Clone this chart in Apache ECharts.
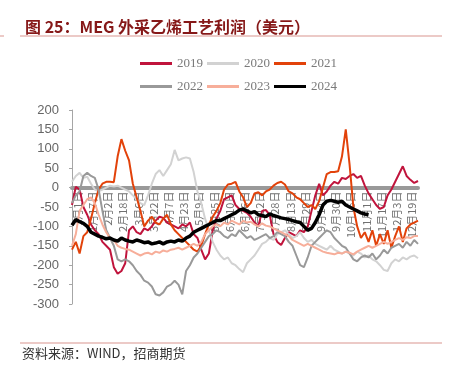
<!DOCTYPE html>
<html>
<head>
<meta charset="utf-8">
<script src="https://cdn.jsdelivr.net/npm/echarts@6/dist/echarts.min.js"></script>
<style>
html,body{margin:0;padding:0;background:#fff;}
#c{width:451px;height:370px;}
</style>
</head>
<body>
<div id="c"></div>
<script>
// Category dates (every 4 days)
var categories = ['1月1日','1月5日','1月9日','1月13日','1月17日','1月21日','1月25日','1月29日',
'2月2日','2月6日','2月10日','2月14日','2月18日','2月22日','2月26日',
'3月2日','3月6日','3月10日','3月14日','3月18日','3月22日','3月26日','3月30日',
'4月3日','4月7日','4月11日','4月15日','4月19日','4月23日','4月27日',
'5月1日','5月5日','5月9日','5月13日','5月17日','5月21日','5月25日','5月29日',
'6月2日','6月6日','6月10日','6月14日','6月18日','6月22日','6月26日','6月30日',
'7月4日','7月8日','7月12日','7月16日','7月20日','7月24日','7月28日',
'8月1日','8月5日','8月9日','8月13日','8月17日','8月21日','8月25日','8月29日',
'9月2日','9月6日','9月10日','9月14日','9月18日','9月22日','9月26日','9月30日',
'10月4日','10月8日','10月12日','10月16日','10月20日','10月24日','10月28日',
'11月1日','11月5日','11月9日','11月13日','11月17日','11月21日','11月25日','11月29日',
'12月3日','12月7日','12月11日','12月15日','12月19日','12月23日','12月27日','12月31日'];

var yTicks = [-300,-250,-200,-150,-100,-50,0,50,100,150,200];

var s2019 = [-45,2,-5,-50,-70,-95,-110,-120,-140,-150,-160,-205,-222,-215,-195,-110,-100,-115,-120,-105,
-110,-100,-85,-75,-78,-90,-95,-100,-105,-95,-100,-90,-120,-130,-160,-185,-170,-110,-80,-60,
-30,-25,-20,-45,-55,-60,-65,-75,-90,-100,-60,-58,-70,-120,-140,-148,-130,-115,-120,-125,
-110,-115,-100,-60,-20,10,-20,-10,5,15,10,25,22,30,35,25,30,5,-15,-30,
-45,-55,-50,-20,-5,15,35,55,30,20,12,17];

var s2020 = [15,30,38,25,28,10,-5,-10,-5,0,5,3,5,0,-5,-10,-20,-30,-40,-45,
-20,10,35,45,30,45,60,97,70,75,78,75,40,-10,-40,-80,-110,-140,-160,-175,
-185,-180,-195,-200,-210,-218,-195,-185,-175,-160,-145,-140,-130,-135,-120,-115,-110,-120,-130,-125,
-115,-130,-140,-135,-145,-150,-155,-160,-150,-160,-165,-170,-165,-170,-175,-165,-170,-180,-175,-185,
-190,-200,-212,-215,-195,-185,-190,-180,-185,-178,-175,-182];

var s2021 = [-160,-140,-170,-125,-115,-80,-40,-5,10,15,15,14,80,125,95,70,10,-25,-60,-100,
-85,-75,-90,-95,-80,-70,-95,-110,-120,-130,-140,-150,-160,-165,-150,-120,-95,-75,-60,-40,
-5,8,10,15,-10,-25,-50,-40,-15,-12,-20,-10,-5,5,12,15,8,-10,-15,-25,
-30,-40,-50,-45,-55,-35,0,35,40,40,42,80,150,60,-50,-100,-130,-115,-140,-110,
-150,-120,-145,-110,-155,-125,-100,-140,-105,-95,-90,-85];

var s2022 = [-40,-20,-10,30,38,30,25,-5,-60,-110,-130,-150,-185,-190,-185,-190,-200,-215,-225,-240,
-245,-255,-275,-278,-270,-255,-250,-240,-250,-275,-215,-200,-180,-170,-155,-140,-125,-120,-110,-115,
-125,-130,-120,-125,-110,-120,-130,-125,-135,-130,-125,-120,-130,-125,-115,-120,-125,-140,-150,-175,
-200,-205,-180,-150,-140,-130,-120,-110,-115,-130,-140,-150,-155,-170,-185,-190,-180,-175,-180,-170,
-185,-175,-160,-170,-155,-150,-145,-155,-140,-150,-135,-145];

var s2023 = [-150,-120,-60,-45,-30,-25,-40,-70,-95,-115,-130,-135,-150,-155,-158,-160,-165,-170,-175,-170,
-168,-172,-165,-168,-162,-165,-160,-158,-155,-160,-155,-150,-145,-150,-140,-120,-110,-100,-95,-100,
-90,-95,-85,-90,-95,-85,-90,-88,-95,-100,-92,-98,-100,-105,-110,-115,-120,-125,-135,-140,
-145,-150,-145,-150,-155,-160,-165,-168,-170,-172,-168,-170,-165,-168,-172,-165,-160,-155,-150,-155,
-150,-145,-140,-145,-140,-135,-130,-135,-128,-130,-125,-125];

var s2024 = [-97,-82,-88,-92,-100,-115,-120,-125,-128,-132,-130,-135,-138,-130,-135,-138,-140,-135,-138,-142,
-140,-145,-143,-140,-145,-140,-138,-140,-135,-138,-130,-125,-115,-110,-105,-100,-95,-90,-85,-85,
-80,-75,-70,-65,-58,-55,-60,-65,-62,-70,-72,-75,-68,-72,-75,-78,-80,-82,-85,-88,
-90,-100,-110,-105,-90,-70,-45,-35,-33,-35,-38,-35,-45,-50,-55,-60,-65,-68,-70];

var names = ['2019','2020','2021','2022','2023','2024'];
var colors = ['#C0143C','#D2D2D2','#E2420A','#999999','#F7AE9A','#000000'];
var widths = [2,2,2,2,2,3.5];
var datas = [s2019,s2020,s2021,s2022,s2023,s2024];

var gridTop = 110, gridBottom = 66, chartH = 370;
var plotH = chartH - gridTop - gridBottom;
var yMin = yTicks[0], yMax = yTicks[yTicks.length-1];
// shift the category axis up so it sits on the value 0
var zeroOffset = -plotH * (0 - yMin) / (yMax - yMin);

var chart = echarts.init(document.getElementById('c'), null, {renderer:'canvas'});
var series = names.map(function(n,k){
  return {name:n,type:'line',data:datas[k],symbol:'none',showSymbol:false,
    lineStyle:{color:colors[k],width:widths[k]},itemStyle:{color:colors[k]},
    emphasis:{disabled:true},animation:false,z:2+k};
});
var legText = {fontFamily:'Liberation Serif',fontSize:13,color:'#7a7a7a'};
chart.setOption({
  animation:false,
  color:colors,
  title:{text:'图 25：MEG 外采乙烯工艺利润（美元）',left:20,top:14,
    textStyle:{fontFamily:'Noto Sans CJK SC',fontWeight:'bold',fontSize:16,color:'#861818'}},
  legend:[
    {data:['2019','2020','2021'],left:135,top:52,itemWidth:32,itemHeight:3,itemGap:4,icon:'rect',textStyle:legText},
    {data:['2022','2023','2024'],left:135,top:75,itemWidth:32,itemHeight:3,itemGap:4,icon:'rect',textStyle:legText}
  ],
  grid:{left:72,right:33,top:gridTop,bottom:gridBottom,containLabel:false},
  xAxis:{type:'category',data:categories,boundaryGap:false,position:'bottom',offset:zeroOffset,
    axisLine:{onZero:false,lineStyle:{color:'#999999',width:4}},
    axisTick:{show:false},
    axisLabel:{interval:3,rotate:90,margin:4,fontSize:11,color:'#707070',fontFamily:'Noto Sans CJK SC',verticalAlign:'top'},
    splitLine:{show:false}},
  yAxis:{type:'value',min:yMin,max:yMax,interval:50,
    axisLine:{show:true,lineStyle:{color:'#a6a6a6',width:1}},
    axisTick:{show:true,length:3,lineStyle:{color:'#a6a6a6'}},
    axisLabel:{margin:13,fontSize:13,color:'#666666',fontFamily:'Liberation Sans'},
    splitLine:{show:false}},
  graphic:[
    {type:'line',shape:{x1:20,y1:36,x2:442,y2:36},style:{stroke:'#D9958F',lineWidth:1}},
    {type:'line',shape:{x1:0,y1:36,x2:4,y2:36},style:{stroke:'#D9958F',lineWidth:1}},
    {type:'line',shape:{x1:20,y1:343,x2:442,y2:343},style:{stroke:'#D9958F',lineWidth:1}},
    {type:'text',left:22,top:347,style:{text:'资料来源：WIND，招商期货',fontFamily:'Noto Sans CJK SC',fontSize:13,fill:'#333333'}}
  ],
  series:series
});
</script>
</body>
</html>
